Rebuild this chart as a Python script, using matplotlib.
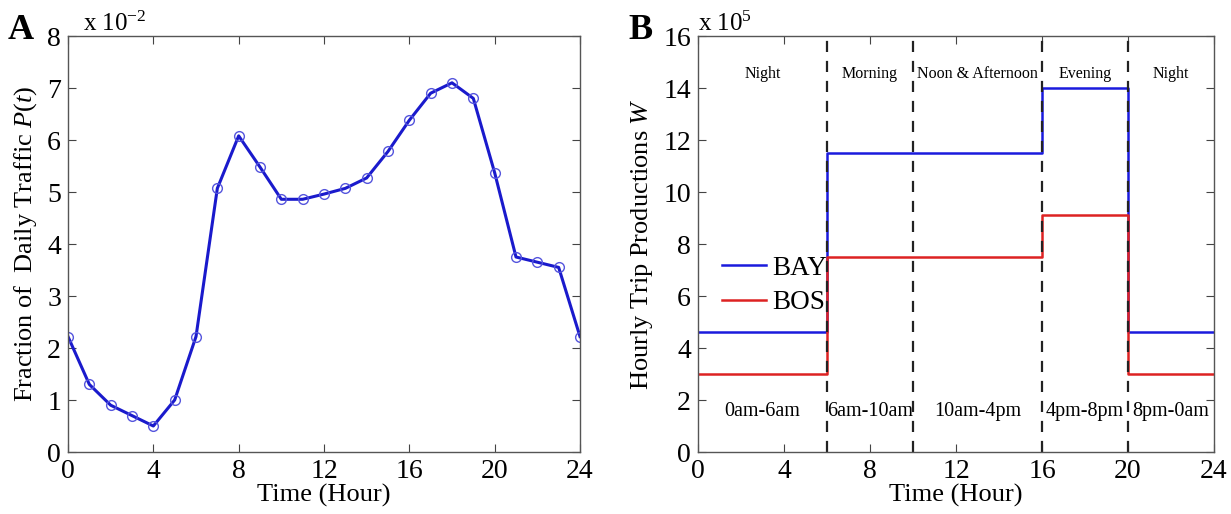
import matplotlib
matplotlib.use("Agg")
import matplotlib.pyplot as plt
import numpy as np

plt.rcParams['font.family'] = ['Liberation Serif', 'DejaVu Serif']
plt.rcParams['mathtext.fontset'] = 'custom'
plt.rcParams['mathtext.rm'] = 'Liberation Serif'
plt.rcParams['mathtext.it'] = 'Liberation Serif:italic'

# Panel A data (fraction x 1e-2)
hours_a = list(range(25))
traffic = [2.22, 1.30, 0.90, 0.70, 0.50, 1.00, 2.22, 5.07, 6.08, 5.48, 4.86, 4.86,
           4.96, 5.07, 5.27, 5.78, 6.38, 6.90, 7.10, 6.80, 5.37, 3.75, 3.65, 3.55, 2.22]

# Panel B data (x 1e5)
edges_b = [0, 6, 16, 20, 24]
bay = [4.6, 11.5, 14.0, 4.6]
bos = [3.0, 7.5, 9.1, 3.0]
period_bounds = [6, 10, 16, 20]
period_names = ["Night", "Morning", "Noon & Afternoon", "Evening", "Night"]
period_centers = [3, 8, 13, 18, 22]
period_times = ["0am-6am", "6am-10am", "10am-4pm", "4pm-8pm", "8pm-0am"]
xticks = [0, 4, 8, 12, 16, 20, 24]

fig = plt.figure(figsize=(12.31, 5.14), dpi=100)
axA = fig.add_axes([68/1231, 62/514, 512/1231, 416/514])
axB = fig.add_axes([698/1231, 62/514, 516/1231, 416/514])

def style(ax):
    for s in ax.spines.values():
        s.set_color('#555555')
        s.set_linewidth(1.0)
    ax.tick_params(direction='in', top=True, right=True, length=6, width=0.8,
                   labelsize=20, colors='#444444', labelcolor='black', pad=5)

# Panel A
axA.plot(hours_a, traffic, color='#1a1acc', lw=2.2, marker='o', ms=7,
         mfc='none', mec='#5555dd', mew=1.0)
axA.set_xlim(0, 24)
axA.set_ylim(0, 8)
axA.set_xticks(xticks)
axA.set_yticks(range(9))
style(axA)
axA.set_xlabel("Time (Hour)", fontsize=19, labelpad=0)
axA.set_ylabel("Fraction of  Daily Traffic $P(t)$", fontsize=19, labelpad=6)
axA.text(0.03, 1.0, r"x 10$^{-2}$", transform=axA.transAxes, fontsize=18,
         va='bottom', ha='left')
fig.text(8/1231, 500/514, "A", fontsize=26, fontweight='bold', va='top', ha='left')

# Panel B
bay_y = bay + [bay[-1]]
bos_y = bos + [bos[-1]]
axB.step(edges_b, bay_y, where='post', color='#1a1add', lw=1.8, label='BAY')
axB.step(edges_b, bos_y, where='post', color='#dd2222', lw=1.8, label='BOS')
for xb in period_bounds:
    axB.axvline(xb, color='#222222', ls=(0, (5, 4)), lw=1.6)
for xc, nm in zip(period_centers, period_names):
    axB.text(xc, 14.25, nm, ha='center', va='bottom', fontsize=11.5)
for xc, tm in zip(period_centers, period_times):
    axB.text(xc, 1.55, tm, ha='center', va='center', fontsize=14.5)
axB.set_xlim(0, 24)
axB.set_ylim(0, 16)
axB.set_xticks(xticks)
axB.set_yticks(range(0, 17, 2))
style(axB)
axB.set_xlabel("Time (Hour)", fontsize=19, labelpad=0)
axB.set_ylabel("Hourly Trip Productions $W$", fontsize=19, labelpad=6)
axB.text(0.0, 1.0, r"x 10$^{5}$", transform=axB.transAxes, fontsize=18,
         va='bottom', ha='left')
leg = axB.legend(loc='center left', bbox_to_anchor=(0.0, 0.40), frameon=False,
                 fontsize=19.5, handlelength=1.6, handletextpad=0.25, labelspacing=0.35)
fig.text(628/1231, 500/514, "B", fontsize=26, fontweight='bold', va='top', ha='left')

fig.savefig("out.png", dpi=100)
